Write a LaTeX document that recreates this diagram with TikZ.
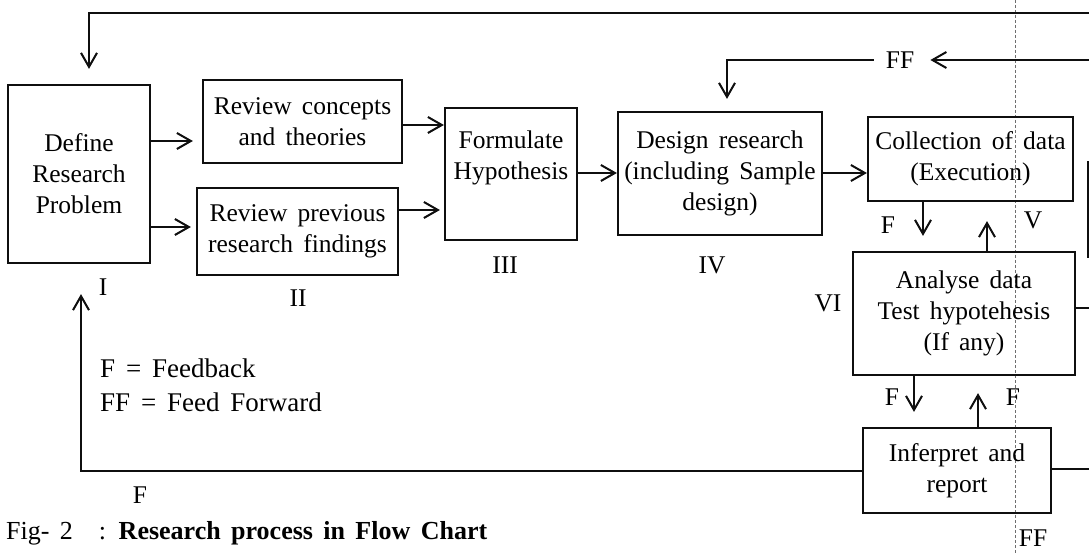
\documentclass[tikz,border=0pt]{standalone}
\usepackage{fontspec}
\setmainfont{Liberation Serif}[WordSpace=1.6]
\usepackage{tikz}
\usetikzlibrary{arrows.meta,positioning}
\usepackage{xcolor}
\definecolor{inkblack}{RGB}{15,15,15}
\definecolor{foldgray}{RGB}{110,110,110}
\tikzstyle{stepbox} = [rectangle, draw=inkblack, line width=2.2pt, align=center, inner sep=2pt]
\tikzstyle{arrow} = [line width=2pt, -{Straight Barb[length=14pt,width=16pt,line width=2pt]}, color=inkblack]
\tikzstyle{line} = [line width=2pt, color=inkblack]
\tikzstyle{tag} = [inner sep=1pt]
\tikzstyle{fold} = [line width=0.6pt, densely dashed, color=foldgray]

\begin{document}
\begin{tikzpicture}[x=1pt, y=-1pt, every node/.style={font=\fontsize{25.5}{31}\selectfont}]
\clip (0,0) rectangle (1089,553);
\fill[white] (0,0) rectangle (1089,553);

% Fold of the page
\draw[fold] (1015,0) -- (1015,553);

% Boxes
\node[stepbox, minimum width=142pt, minimum height=178pt] (define) at (79,174) {Define\\Research\\Problem};
\node[stepbox, minimum width=199pt, minimum height=83pt] (concepts) at (302.5,121.5) {Review concepts\\and theories};
\node[stepbox, minimum width=201pt, minimum height=87pt] (previous) at (297.5,231.5) {Review previous\\research findings};
\node[stepbox, minimum width=132pt, minimum height=132pt] (formulate) at (511,174) {Formulate\\Hypothesis\\[6pt]};
\node[stepbox, minimum width=204pt, minimum height=123pt] (design) at (720,173.5) {Design research\\(including Sample\\design)};
\node[stepbox, minimum width=205pt, minimum height=84pt] (collect) at (970.5,159) {Collection of data\\(Execution)};
\node[stepbox, minimum width=222pt, minimum height=123pt] (analyse) at (964,313.5) {Analyse data\\Test hypotehesis\\(If any)};
\node[stepbox, minimum width=188pt, minimum height=85pt] (interpret) at (957,470.5) {Inferpret and\\report};
\node[stepbox, minimum width=80pt, minimum height=95pt, anchor=west] (next) at (1087,209.5) {};

% Step numbers
\node[tag] (n1) at (103,287) {I};
\node[tag] (n2) at (298,298) {II};
\node[tag] (n3) at (505,265) {III};
\node[tag] (n4) at (712,265) {IV};
\node[tag] (n5) at (1033,220) {V};
\node[tag] (n6) at (828,303) {VI};

% Forward flow
\draw[arrow, shorten >=9pt] (define.east |- 0,141) -- (concepts.west |- 0,141);
\draw[arrow, shorten >=5pt] (define.east |- 0,227) -- (previous.west |- 0,227);
\draw[arrow] (concepts.east |- 0,125) -- (formulate.west |- 0,125);
\draw[arrow, shorten >=4pt] (previous.east |- 0,210) -- (formulate.west |- 0,210);
\draw[arrow] (formulate.east |- 0,173) -- (design.west |- 0,173);
\draw[arrow] (design.east |- 0,173) -- (collect.west |- 0,173);

% Loops between the lower steps
\draw[arrow, shorten >=15pt] (collect.south -| 923,0) -- (analyse.north -| 923,0);
\draw[arrow, shorten >=19pt] (analyse.north -| 987,0) -- (collect.south -| 987,0);
\draw[arrow, shorten >=15pt] (analyse.south -| 914,0) -- (interpret.north -| 914,0);
\draw[arrow, shorten >=17pt] (interpret.north -| 978,0) -- (analyse.south -| 978,0);
\node[tag] (f1) at (888,225) {F};
\node[tag] (f2) at (892,397) {F};
\node[tag] (f3) at (1013,397) {F};

% Feedback to the start
\draw[arrow, shorten >=30pt] (interpret.west) -| ([xshift=2pt]define.south);
\node[tag] (f4) at (140,495) {F};
\coordinate (topin) at (1089,13);
\draw[arrow, shorten >=15pt] (topin) -| ([xshift=10pt]define.north);

% Feed forward
\coordinate (ffin) at (1089,60);
\node[tag] (ff) at (900,60) {FF};
\draw[arrow, shorten >=15pt] (ffin) -- (ff.east);
\draw[arrow, shorten <=11pt, shorten >=12pt] (ff.west) -| ([xshift=7pt]design.north);

% Lines leaving to the right
\coordinate (aout) at (1089,308);
\draw[line] (analyse.east |- aout) -- (aout);
\coordinate (iout) at (1089,469);
\draw[line] (interpret.east |- iout) -- (iout);
\node[tag] (ff2) at (1033,538) {FF};

% Key and caption
\node[anchor=west, inner sep=0pt, font=\fontsize{27}{31}\selectfont] (fkey) at (100,368) {F = Feedback};
\node[anchor=west, inner sep=0pt, font=\fontsize{27}{31}\selectfont] (ffkey) at (100,402) {FF = Feed Forward};
\node[anchor=west, inner sep=0pt, font=\fontsize{26}{31}\selectfont] (caption) at (6,533) {Fig- 2\hspace{26pt}: \textbf{Research process in Flow Chart}};
\end{tikzpicture}
\end{document}
